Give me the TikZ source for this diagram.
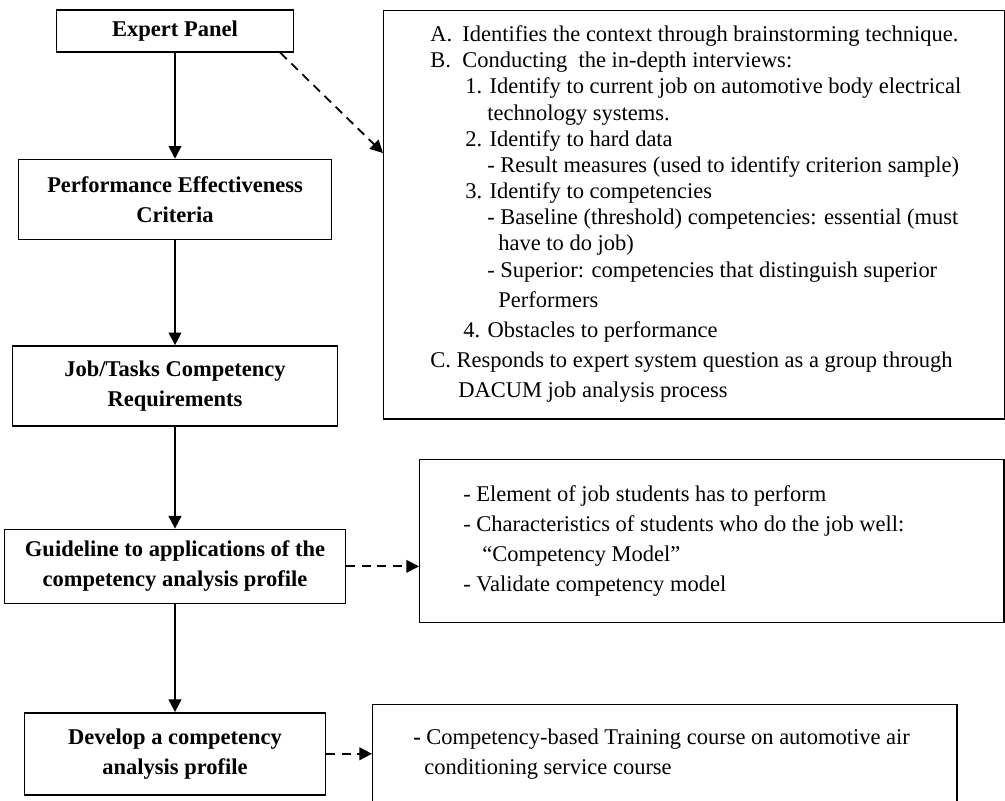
\documentclass[tikz,border=0pt]{standalone}
\usepackage{fontspec}
\setmainfont{Liberation Serif}
\usetikzlibrary{arrows.meta,positioning,calc}

\begin{document}
\begin{tikzpicture}[x=0.025cm,y=-0.025cm,
  every node/.style={inner sep=0pt,},%
  bx/.style={draw,line width=1pt,align=center,%
    font=\fontsize{16pt}{21.3pt}\selectfont\bfseries,},%
  pn/.style={draw,line width=1pt,anchor=north west,},%
  tx/.style={align=left,anchor=north west,font=\fontsize{16pt}{21.3pt}\selectfont,},%
  e/.style={-{Triangle[length=9pt,width=9pt]},line width=1.3pt},%
  de/.style={e,dash pattern=on 6.5pt off 4.5pt},%
  ]
  \useasboundingbox (0,0) rectangle (1005,801);
  \clip (0,0) rectangle (1005,801);

  \node (panel) [bx,minimum width=5.925cm,minimum height=1.05cm] at (175,31) {Expert Panel};
  \node (crit) [below=2.65cm of panel,bx,minimum width=7.825cm,minimum height=2cm]
  {Performance Effectiveness\\Criteria};
  \node (req) [below=2.625cm of crit,bx,minimum width=8.125cm,minimum height=2cm]
  {Job/Tasks Competency\\Requirements};
  \node (guide) [below=2.55cm of req,bx,minimum width=8.525cm,minimum height=1.85cm]
  {Guideline to applications of the\\competency analysis profile};
  \node (dev) [below=2.7cm of guide,bx,minimum width=7.525cm,minimum height=2.05cm]
  {Develop a competency\\analysis profile};

  \node (ctx) [pn,minimum width=15.525cm,minimum height=10.2cm] at (383,10) {};
  \node (ctxtext) [tx,font=\fontsize{16pt}{18.6pt}\selectfont] at (430,25.5) {%
    \makebox[8mm][l]{A.}Identifies the context through brainstorming technique.\\
    \makebox[8mm][l]{B.}Conducting\ \ the in-depth interviews:\\
    \hspace*{8.75mm}1. Identify to current job on automotive body electrical\\
    \hspace*{14.25mm}technology systems.\\
    \hspace*{8.75mm}2. Identify to hard data\\
    \hspace*{14.25mm}- Result measures (used to identify criterion sample)\\
    \hspace*{8.75mm}3. Identify to competencies\\
    \hspace*{14.25mm}- Baseline (threshold) competencies: essential (must\\
    \hspace*{17mm}have to do job)\\
    \hspace*{14.25mm}- Superior: competencies that distinguish superior\\[2.8pt]
    \hspace*{17mm}Performers\\[2.8pt]
    \hspace*{8.25mm}4. Obstacles to performance\\[2.8pt]
    C. Responds to expert system question as a group through\\[2.8pt]
    \hspace*{7mm}DACUM job analysis process};

  \node (model) [pn,minimum width=14.6cm,minimum height=4.075cm] at (419,459) {};
  \node (modeltext) [tx] at (463,485.5) {- Element of job students has to perform\\
    - Characteristics of students who do the job well:\\
    \hspace*{4.75mm}“Competency Model”\\
    - Validate competency model};

  \node (course) [pn,minimum width=14.6cm,minimum height=3.25cm] at (372,704) {};
  \node (coursetext) [tx] at (413,728.5) {\textbf{-} Competency-based Training course on automotive air\\
    \hspace*{2.75mm}conditioning service course};

  \draw [e] (panel) -- (crit);
  \draw [e] (crit) -- (req);
  \draw [e] (req) -- (guide);
  \draw [e] (guide) -- (dev);
  \draw [de] ([xshift=-0.35cm]panel.south east) -- ([yshift=-3.575cm]ctx.north west);
  \draw [de] (guide.east) -- (guide.east -| model.west);
  \draw [de] (dev.east) -- (dev.east -| course.west);
\end{tikzpicture}
\end{document}
